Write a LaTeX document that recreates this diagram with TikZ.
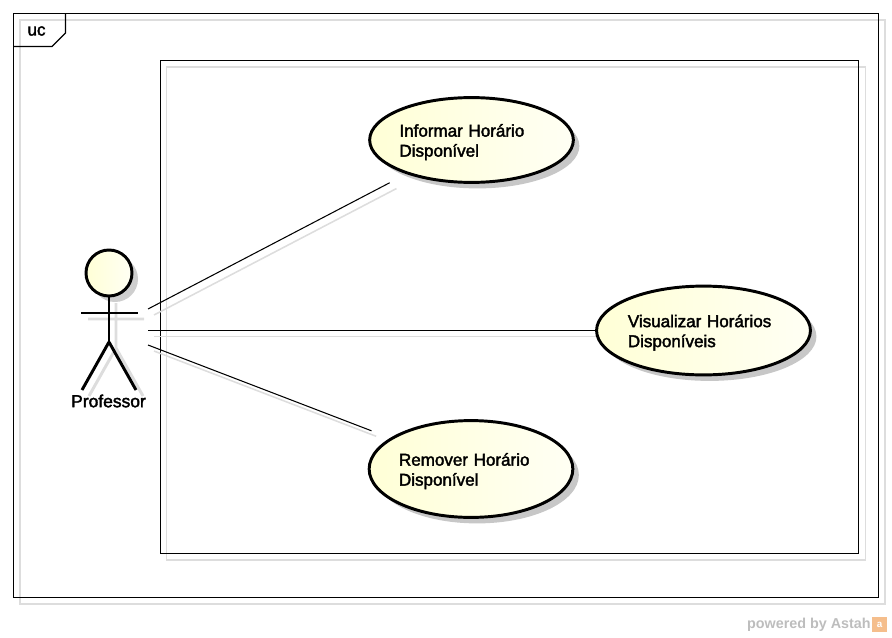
\documentclass[tikz,border=0pt]{standalone}
\usepackage{fontspec}
\setmainfont{Liberation Sans}
\newfontfamily\ucfont[FakeBold=2.2]{Liberation Sans}
\usetikzlibrary{shapes.geometric, shadows}
\definecolor{shadowgray}{HTML}{DDDDDD}
\definecolor{ovalgray}{HTML}{B9B9B9}
\definecolor{creamdark}{HTML}{FFFFD6}
\definecolor{creamlight}{HTML}{FFFFF4}
\definecolor{astahgray}{HTML}{BDBDBD}
\definecolor{astahorange}{HTML}{F5BE8C}
\tikzset{
  usecase/.style={ellipse, draw=black, line width=2.1pt, inner sep=0pt, align=left,
    font=\ucfont\fontsize{12.1}{14.2}\selectfont, left color=creamdark, right color=creamlight,
    execute at end node={\par\vspace{-3pt}},
    drop shadow={shadow xshift=0.15cm, shadow yshift=-0.15cm, fill=ovalgray, opacity=0.8}},
  assoc/.style={black, line width=0.75pt},
  assocshadow/.style={shadowgray, line width=1.1pt},
  framebox/.style={black, line width=0.8pt},
  frameshadow/.style={shadowgray, line width=1.1pt},
  stick/.style={black, line width=2.1pt},
  stickshadow/.style={shadowgray, line width=2.1pt}
}
\begin{document}
\begin{tikzpicture}[x=0.025cm, y=-0.025cm]
    \useasboundingbox (0, 0) rectangle (892, 637);

    % Frame and boundary shadows
    \draw[frameshadow] (20, 20) rectangle (885, 604);
    \draw[frameshadow] (166.5, 67) rectangle (865.5, 560);

    % Frame, tab and boundary
    \draw[framebox] (13.5, 13.5) rectangle (878.5, 597.5);
    \draw[framebox] (13.5, 46.5) -- (52, 46.5) -- (65.5, 33) -- (65.5, 13.5);
    \node[font=\ucfont\fontsize{12.1}{14}\selectfont] (title) at (36.5, 31) {uc};
    \draw[framebox] (160.5, 60.5) rectangle (858.5, 553.5);

    % Actor end points
    \coordinate (profA) at (148, 309);
    \coordinate (profB) at (148, 330.5);
    \coordinate (profC) at (148, 345);
    \coordinate (profAs) at (154, 315);
    \coordinate (profBs) at (154, 336.5);
    \coordinate (profCs) at (154, 351);

    % Actor shadow
    \fill[ovalgray!70] (115, 279) circle (23);
    \draw[stickshadow] (116, 303) -- (116, 348) (88, 319) -- (144, 319)
        (116, 348) -- (89, 396) (116, 348) -- (143, 396);

    % Use cases
    \coordinate (informarS) at (478, 146);
    \coordinate (visualizarS) at (709, 336.5);
    \coordinate (removerS) at (477, 475);
    \draw[assocshadow, shorten >=2.3cm] (profAs) -- (informarS);
    \draw[assocshadow, shorten >=2.7cm] (profBs) -- (visualizarS);
    \draw[assocshadow, shorten >=2.7cm] (profCs) -- (removerS);

    \node[usecase, text width=3.6cm, minimum height=2.12cm] (informar) at (471.5, 140) {Informar Horário\\Disponível};
    \node[usecase, text width=3.78cm, minimum height=2.22cm] (visualizar) at (703.5, 330.5) {Visualizar Horários\\Disponíveis};
    \node[usecase, text width=3.6cm, minimum height=2.42cm] (remover) at (471, 469) {Remover Horário\\Disponível};

    % Associations
    \draw[assoc, shorten >=0.47cm] (profA) -- (informar);
    \draw[assoc] (profB) -- (visualizar);
    \draw[assoc, shorten >=0.5cm] (profC) -- (remover);

    % Actor
    \node[circle, draw=black, line width=2.1pt, minimum size=1.15cm, inner sep=0pt,
        left color=creamdark, right color=creamlight] (head) at (109, 273) {};
    \coordinate (hip) at (109, 342);
    \draw[stick] (head) -- (hip) (81, 313) -- (138, 313);
    \draw[stick] (hip) -- (82, 390);
    \draw[stick] (hip) -- (136, 390);
    \node[font=\ucfont\fontsize{12.4}{14}\selectfont] (professor) at (108.5, 401) {Professor};

    % Logo
    \node[astahgray, font=\bfseries\fontsize{10.2}{12}\selectfont, anchor=east, inner sep=0pt] (powered) at (871, 625) {powered by Astah};
    \node[fill=astahorange, minimum size=0.38cm, inner sep=0pt, text=white, font=\bfseries\scriptsize] (logo) at (879.5, 624.5) {a};
\end{tikzpicture}
\end{document}
